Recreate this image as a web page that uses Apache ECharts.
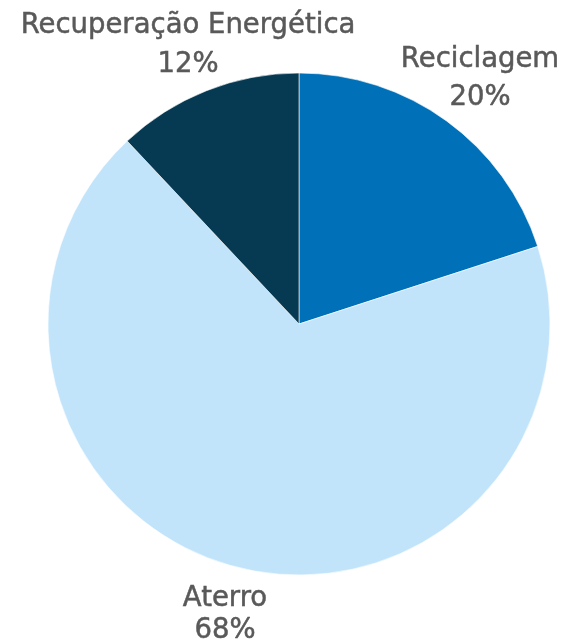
<!DOCTYPE html>
<html>
<head>
<meta charset="utf-8">
<script src="https://cdn.jsdelivr.net/npm/echarts@6/dist/echarts.min.js"></script>
<style>
  html, body { margin: 0; padding: 0; background: #ffffff; }
  #chart { width: 564px; height: 642px; }
</style>
</head>
<body>
<div id="chart"></div>
<script>
// Destino dos resíduos (%)
const categories = ['Reciclagem', 'Aterro', 'Recuperação Energética'];
const shares = [20, 68, 12];
const sliceColors = ['#0070B9', '#C1E4FB', '#063A53'];

// Label anchors (centre of the two-line text block) and line spacing per slice
const labelAnchors = [
  { x: 480, y: 79, lh: 38 },
  { x: 225, y: 615, lh: 32 },
  { x: 188, y: 45, lh: 39 }
];

const chart = echarts.init(document.getElementById('chart'), null, { renderer: 'canvas' });

const textStyle = lh => ({
  fontSize: 27.5,
  color: '#595959',
  fontFamily: 'DejaVu Sans',
  lineHeight: lh,
  align: 'center',
  textBorderColor: '#595959',
  textBorderWidth: 0.5
});

const data = categories.map((name, i) => ({
  name: name,
  value: shares[i],
  itemStyle: { color: sliceColors[i] },
  label: {
    rich: {
      n: textStyle(labelAnchors[i].lh),
      v: textStyle(labelAnchors[i].lh)
    }
  }
}));

chart.setOption({
  animation: false,
  series: [{
    type: 'pie',
    center: [299, 324],
    radius: [0, 251],
    startAngle: 90,
    clockwise: true,
    avoidLabelOverlap: false,
    itemStyle: { borderColor: '#ffffff', borderWidth: 0.6 },
    label: {
      show: true,
      position: 'outside',
      formatter: p => '{n|' + p.name + '}\n{v|' + p.value + '%}',
      fontFamily: 'DejaVu Sans',
      fontSize: 27.5,
      color: '#595959'
    },
    labelLine: { show: false },
    labelLayout: params => {
      const a = labelAnchors[params.dataIndex];
      return { x: a.x, y: a.y, align: 'center', verticalAlign: 'middle', hideOverlap: false };
    },
    data: data
  }]
});
</script>
</body>
</html>
